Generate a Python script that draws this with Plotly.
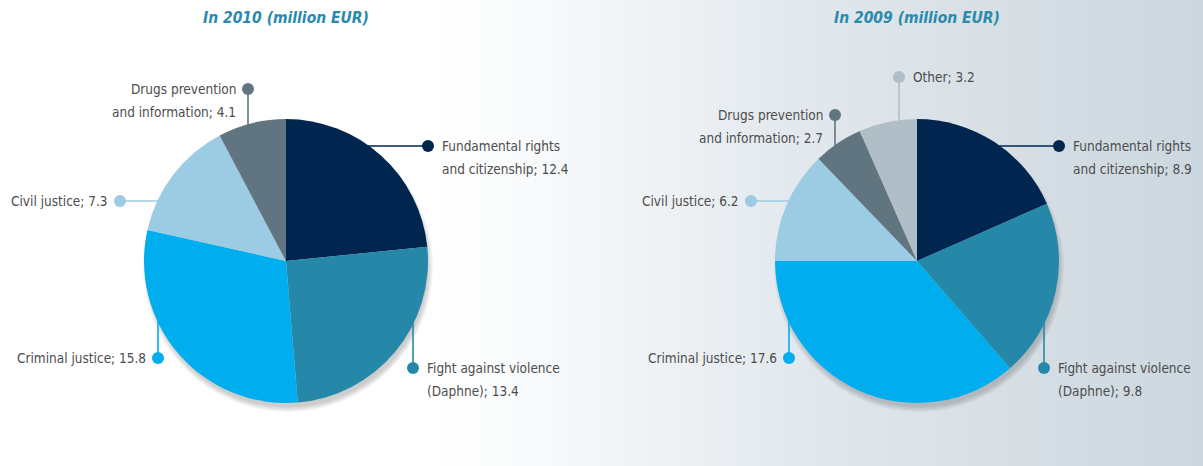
import math
import plotly.graph_objects as go

W, H = 1203, 466

# ---- data -------------------------------------------------------------
labels_2010 = ["Fundamental rights|and citizenship", "Fight against violence|(Daphne)",
               "Criminal justice", "Civil justice", "Drugs prevention|and information"]
values_2010 = [12.4, 13.4, 15.8, 7.3, 4.1]

labels_2009 = ["Fundamental rights|and citizenship", "Fight against violence|(Daphne)",
               "Criminal justice", "Civil justice", "Drugs prevention|and information", "Other"]
values_2009 = [8.9, 9.8, 17.6, 6.2, 2.7, 3.2]

titles = ["In 2010 (million EUR)", "In 2009 (million EUR)"]

colors = {
    "Fundamental rights|and citizenship": "#002650",
    "Fight against violence|(Daphne)": "#2688a9",
    "Criminal justice": "#00aeef",
    "Civil justice": "#9ccbe4",
    "Drugs prevention|and information": "#617580",
    "Other": "#b0bec7",
}

FONT = "DejaVu Sans Condensed, Roboto Condensed, Liberation Sans Narrow, Roboto, sans-serif"
LABEL_SIZE = 13.5
LINE_GAP = 23

# ---- layout of the two pies (pixels) ---------------------------------
R = 142
centers = [(286, 261), (917, 261)]

# label anchor: (dot x, dot y, leader direction, text side)
anchors_2010 = {
    "Fundamental rights|and citizenship": (428, 146, "h", "right"),
    "Fight against violence|(Daphne)": (413, 368, "v", "right"),
    "Criminal justice": (158, 358, "v", "left"),
    "Civil justice": (120, 201, "h", "left"),
    "Drugs prevention|and information": (248, 89, "v", "left"),
}
anchors_2009 = {
    "Fundamental rights|and citizenship": (1059, 146, "h", "right"),
    "Fight against violence|(Daphne)": (1044, 368, "v", "right"),
    "Criminal justice": (789, 358, "v", "left"),
    "Civil justice": (751, 201, "h", "left"),
    "Drugs prevention|and information": (835, 115, "v", "left"),
    "Other": (899, 77, "v", "right"),
}


def px(x):
    return x / W


def py(y):
    return 1 - y / H


fig = go.Figure()
shapes = []
annotations = []

# background: horizontal gradient from white to light blue-grey
stops = [(0, (255, 255, 255)), (430, (255, 255, 255)), (600, (243, 246, 248)),
         (800, (226, 232, 237)), (1000, (215, 223, 229)), (1203, (204, 215, 223))]
step = 6
for x0 in range(0, W, step):
    xm = x0 + step / 2
    for (a, ca), (b, cb) in zip(stops[:-1], stops[1:]):
        if a <= xm <= b:
            t = (xm - a) / (b - a) if b > a else 0
            c = tuple(round(ca[i] + (cb[i] - ca[i]) * t) for i in range(3))
            break
    shapes.append(dict(type="rect", xref="paper", yref="paper", layer="below",
                       x0=px(x0), x1=px(min(x0 + step + 1, W)), y0=0, y1=1,
                       fillcolor="rgb(%d,%d,%d)" % c, line=dict(width=0)))

# soft drop shadow under each pie
for cx, cy in centers:
    for k in range(6):
        r = R + 3 - k
        shapes.append(dict(type="circle", xref="paper", yref="paper", layer="below",
                           x0=px(cx + 2 - r), x1=px(cx + 2 + r),
                           y0=py(cy + 6 + r), y1=py(cy + 6 - r),
                           fillcolor="rgba(70,70,70,0.05)", line=dict(width=0)))

for idx, (labs, vals, anchors) in enumerate([(labels_2010, values_2010, anchors_2010),
                                             (labels_2009, values_2009, anchors_2009)]):
    cx, cy = centers[idx]
    fig.add_trace(go.Pie(
        labels=[l.replace("|", " ") for l in labs], values=vals, sort=False,
        direction="clockwise", rotation=0,
        marker=dict(colors=[colors[l] for l in labs], line=dict(width=0)),
        textinfo="none", hoverinfo="label+value", showlegend=False,
        domain=dict(x=[px(cx - R), px(cx + R)], y=[py(cy + R), py(cy - R)]),
    ))

    for lab, val in zip(labs, vals):
        dx, dy, dirn, side = anchors[lab]
        col = colors[lab]
        # leader line from the dot to the pie's rim
        if dirn == "h":
            off = math.sqrt(max(R ** 2 - (dy - cy) ** 2, 0))
            ex = cx - off + 2 if dx < cx else cx + off - 2
            ey = dy
        else:
            off = math.sqrt(max(R ** 2 - (dx - cx) ** 2, 0))
            ex = dx
            ey = cy - off + 2 if dy < cy else cy + off - 2
        shapes.append(dict(type="line", xref="paper", yref="paper", layer="above",
                           x0=px(dx), y0=py(dy), x1=px(ex), y1=py(ey),
                           line=dict(color=col, width=1.6)))
        rdot = 6
        shapes.append(dict(type="circle", xref="paper", yref="paper", layer="above",
                           x0=px(dx - rdot), x1=px(dx + rdot), y0=py(dy + rdot), y1=py(dy - rdot),
                           fillcolor=col, line=dict(width=0)))
        lines = ("%s; %s" % (lab, val)).split("|")
        for j, line in enumerate(lines):
            if side == "right":
                xa, anchor = px(dx + 12), "left"
            else:
                xa, anchor = px(dx - 10), "right"
            annotations.append(dict(x=xa, y=py(dy + j * LINE_GAP), xref="paper", yref="paper",
                                    text=line, showarrow=False, xanchor=anchor, yanchor="middle",
                                    font=dict(family=FONT, size=LABEL_SIZE, color="#4d4d4d")))

    annotations.append(dict(x=px([286, 917][idx]), y=py(18), xref="paper", yref="paper",
                            text="<b><i>%s</i></b>" % titles[idx], showarrow=False,
                            xanchor="center", yanchor="middle",
                            font=dict(family=FONT, size=15.5, color="#2a8aab")))

fig.update_layout(
    width=W, height=H, margin=dict(l=0, r=0, t=0, b=0),
    paper_bgcolor="white", plot_bgcolor="white",
    shapes=shapes, annotations=annotations,
)
fig.write_html("out.html")
